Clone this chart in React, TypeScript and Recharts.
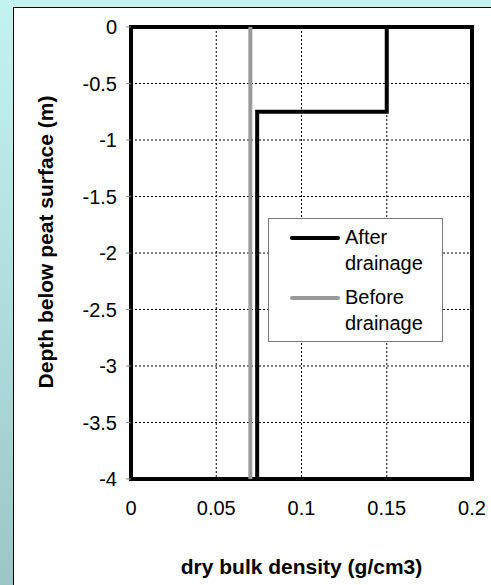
import { LineChart, Line, XAxis, YAxis, CartesianGrid, ReferenceArea } from "recharts"

const afterDensity = [0.15, 0.15, 0.074, 0.074]
const afterDepth = [0, -0.75, -0.75, -4]
const beforeDensity = [0.07, 0.07]
const beforeDepth = [0, -4]
const xTicks = [0, 0.05, 0.1, 0.15, 0.2]
const yTicks = [0, -0.5, -1, -1.5, -2, -2.5, -3, -3.5, -4]
const seriesNames = ["After drainage", "Before drainage"]
const seriesColors = ["#000", "#9a9a9a"]

const afterData = afterDensity.map((x, i) => ({ x, y: afterDepth[i] }))
const beforeData = beforeDensity.map((x, i) => ({ x, y: beforeDepth[i] }))

const font = "'Liberation Sans', Arial, sans-serif"

// legend sits inside the plot area, drawn as an overlay
function LegendBox() {
  return (
    <div
      style={{
        position: "absolute",
        left: 268,
        top: 218,
        width: 173,
        height: 117,
        background: "#fff",
        border: "1px solid #777",
        fontFamily: font,
        fontSize: 20,
        color: "#000",
        paddingTop: 5,
      }}
    >
      {seriesNames.map((name, i) => (
        <div key={name} style={{ display: "flex", alignItems: "flex-start", height: 60 }}>
          <div style={{ width: 50, height: 4, background: seriesColors[i], marginLeft: 21, marginTop: 12, borderRadius: 2 }} />
          <div style={{ width: 95, marginLeft: 5, lineHeight: "26px" }}>{name}</div>
        </div>
      ))}
    </div>
  )
}

export default function App() {
  return (
    <div
      style={{
        position: "absolute",
        left: 0,
        top: 0,
        width: 491,
        height: 585,
        overflow: "hidden",
        background: "linear-gradient(180deg, #c3f3f1 0%, #b0dede 50%, #9cc6c6 100%)",
      }}
    >
      <div
        style={{
          position: "absolute",
          left: 13,
          top: 7,
          width: 500,
          height: 600,
          background: "#fff",
          borderLeft: "1px solid #000",
          borderTop: "1px solid #000",
        }}
      />
      <div style={{ position: "absolute", left: 0, top: 0 }}>
        <LineChart width={491} height={585} margin={{ top: 27, right: 19, bottom: 76, left: 81 }}>
          <CartesianGrid stroke="#000" strokeDasharray="2 2" strokeWidth={1} horizontalValues={yTicks} verticalValues={xTicks} />
          <XAxis
            type="number"
            dataKey="x"
            domain={[0, 0.2]}
            ticks={xTicks}
            axisLine={false}
            tickLine={false}
            tickSize={6}
            tickMargin={16}
            height={30}
            tick={{ fill: "#000", fontSize: 20, fontFamily: font }}
            label={{ value: "dry bulk density (g/cm3)", position: "insideBottom", offset: -65, fill: "#000", fontSize: 21, fontWeight: "bold", fontFamily: font }}
          />
          <YAxis
            type="number"
            dataKey="y"
            domain={[-4, 0]}
            ticks={yTicks}
            axisLine={false}
            tickLine={{ stroke: "#888" }}
            tickSize={5}
            tickMargin={9}
            width={50}
            tick={{ fill: "#000", fontSize: 20, fontFamily: font }}
            label={{ value: "Depth below peat surface (m)", angle: -90, position: "center", dx: -60, dy: -11, fill: "#000", fontSize: 21, fontWeight: "bold", fontFamily: font }}
          />
          <ReferenceArea x1={0} x2={0.2} y1={-4} y2={0} fill="none" stroke="#000" strokeWidth={4} ifOverflow="visible" />
          <Line data={afterData} dataKey="y" name={seriesNames[0]} stroke={seriesColors[0]} strokeWidth={4} dot={false} isAnimationActive={false} />
          <Line data={beforeData} dataKey="y" name={seriesNames[1]} stroke={seriesColors[1]} strokeWidth={4} dot={false} isAnimationActive={false} />
        </LineChart>
      </div>
      <LegendBox />
    </div>
  )
}
